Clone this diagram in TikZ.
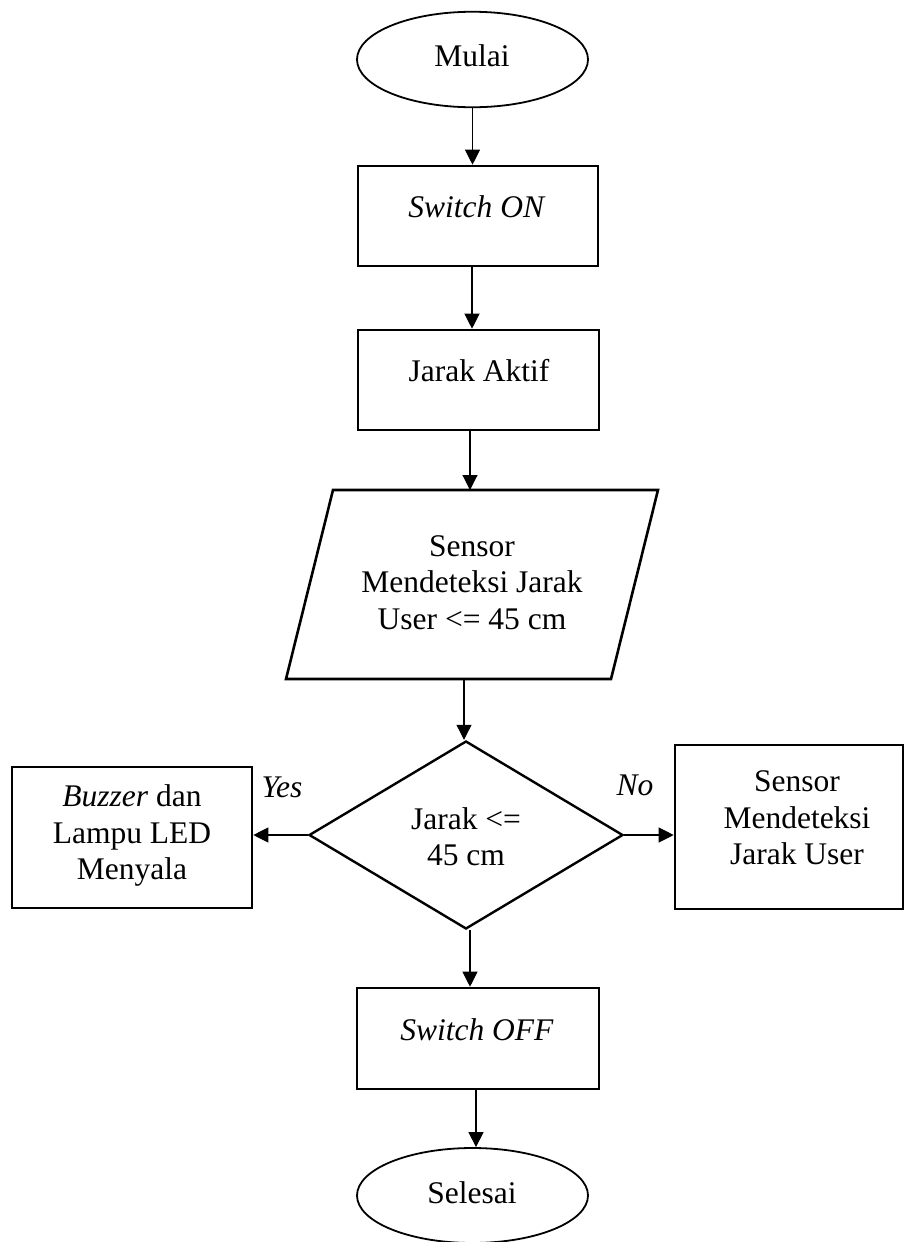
\documentclass[tikz,border=0pt]{standalone}
\usepackage{fontspec}
\setmainfont{Liberation Serif}
\usetikzlibrary{arrows.meta,shapes.geometric,calc}
\begin{document}
\begin{tikzpicture}[x=1bp,y=-1bp,
  every node/.style={inner sep=0pt},
  term/.style={draw, ellipse, line width=1.8bp},
  proc/.style={draw, rectangle, line width=2.6bp},
  io/.style={draw, line width=2.6bp, line join=miter},
  decision/.style={draw, diamond, line width=2.4bp},
  lbl/.style={font=\fontsize{31.5bp}{36.5bp}\selectfont, align=center},
  arr/.style={line width=1.1bp, -{Triangle[length=15bp,width=15bp]}}]
\useasboundingbox (0,0) rectangle (904,1242);

% shapes
\node[term, minimum width=231bp, minimum height=95.5bp] (mulai) at (472.5,59.5) {};
\node[proc, minimum width=240bp, minimum height=100bp] (swon) at (478,216) {};
\node[proc, minimum width=241bp, minimum height=100bp] (ja) at (478.5,380) {};

% input/output parallelogram
\coordinate (paraTL) at (333,490);
\coordinate (paraTR) at (658,490);
\coordinate (paraBR) at (611,679);
\coordinate (paraBL) at (286,679);
\coordinate (paraN) at (472,490);
\coordinate (paraS) at (464,679);
\draw[io] (paraTL) -- (paraTR) -- (paraBR) -- (paraBL) -- cycle;

\node[decision, minimum width=314bp, minimum height=188bp] (dec) at (466,835) {};
\node[proc, minimum width=240bp, minimum height=141bp] (yesbox) at (132,837.5) {};
\node[proc, minimum width=228bp, minimum height=164bp] (nobox) at (789,827) {};
\node[proc, minimum width=242bp, minimum height=101bp] (swoff) at (478,1038.5) {};
\node[term, minimum width=231bp, minimum height=95bp] (selesai) at (472.5,1195.5) {};

% texts
\node[lbl] (tmulai) at (472,58.7) {\strut Mulai};
\node[lbl] (tswon) at (477,209.7) {\strut\textit{Switch ON}};
\node[lbl] (tja) at (479,373.7) {\strut Jarak Aktif};
\node[lbl] (tpara) at (472,585.2) {\strut Sensor\\\strut Mendeteksi Jarak\\\strut User <= 45 cm};
\node[lbl] (tdec) at (466,840.2) {\strut Jarak <=\\\strut 45 cm};
\node[lbl] (tyesbox) at (132,835.7) {\strut\textit{Buzzer} dan\\\strut Lampu LED\\\strut Menyala};
\node[lbl] (tnobox) at (797,820.7) {\strut Sensor\\\strut Mendeteksi\\\strut Jarak User};
\node[lbl] (tswoff) at (477,1032.7) {\strut\textit{Switch OFF}};
\node[lbl] (tselesai) at (472,1195.7) {\strut Selesai};
\node[lbl] (tyes) at (282,789.7) {\strut\textit{Yes}};
\node[lbl] (tno) at (635,787.7) {\strut\textit{No}};

% connectors
\draw[arr] (mulai.south) -- (mulai.south |- swon.north);
\draw[arr] ([xshift=-6bp]swon.south) -- ([xshift=-6bp]swon.south |- ja.north);
\draw[arr] ([xshift=-8.5bp]ja.south) -- ([xshift=-8.5bp]ja.south |- paraN);
\draw[arr] (paraS) -- (paraS |- dec.north);
\draw[arr] ([xshift=4bp]dec.south) -- ([xshift=4bp]dec.south |- swoff.north);
\draw[arr] ([xshift=-2bp]swoff.south) -- ([xshift=-2bp]swoff.south |- selesai.north);
\draw[arr] (dec.west) -- (dec.west -| yesbox.east);
\draw[arr] (dec.east) -- (dec.east -| nobox.west);
\end{tikzpicture}
\end{document}
